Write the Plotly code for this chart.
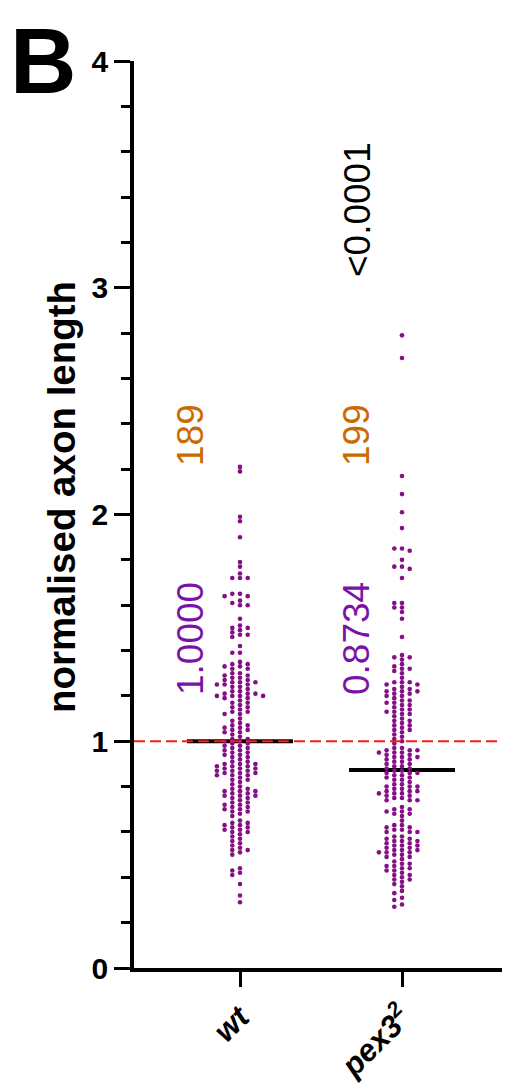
import plotly.graph_objects as go

# ---------------- data ----------------
categories = ["wt", "pex3<sup>2</sup>"]
n_labels = ["189", "199"]
center_values = [1.0000, 0.8734]
center_labels = ["1.0000", "0.8734"]
p_value_label = "<0.0001"
reference_value = 1.0
y_ticks = [0, 1, 2, 3, 4]

wt_values = [
    2.21, 2.19, 1.99, 1.97, 1.90, 1.79, 1.77, 1.74, 1.72, 1.72, 1.72,
    1.65, 1.64, 1.65, 1.64, 1.62, 1.60, 1.60, 1.61, 1.54,
    1.51, 1.50, 1.49, 1.47, 1.48, 1.50, 1.47, 1.46, 1.42, 1.39, 1.39,
    1.35, 1.34, 1.34, 1.33, 1.33, 1.32, 1.32,
    1.30, 1.30, 1.29, 1.29, 1.28, 1.28,
    1.27, 1.27, 1.26, 1.26, 1.26, 1.25, 1.25, 1.25, 1.24, 1.24,
    1.23, 1.22, 1.22, 1.21, 1.21, 1.21, 1.20, 1.20, 1.20, 1.20, 1.19, 1.19, 1.18, 1.17, 1.17, 1.16,
    1.15, 1.15, 1.14, 1.13, 1.13, 1.12, 1.12,
    1.10, 1.09, 1.08, 1.07, 1.07, 1.06, 1.06, 1.05, 1.05, 1.04, 1.04, 1.03,
    1.02, 1.01, 1.01, 1.00, 1.00, 0.99, 0.99, 0.98, 0.98,
    0.97, 0.97, 0.96, 0.96, 0.95, 0.95, 0.94, 0.94, 0.93, 0.93, 0.92,
    0.91, 0.91, 0.90, 0.90, 0.90, 0.89, 0.89, 0.89, 0.88, 0.88, 0.88, 0.87, 0.87, 0.87,
    0.86, 0.86, 0.86, 0.85, 0.85, 0.85,
    0.84, 0.83, 0.83, 0.82, 0.81, 0.80,
    0.79, 0.79, 0.78, 0.78, 0.78, 0.77, 0.77, 0.76, 0.76, 0.76, 0.75, 0.75,
    0.74, 0.73, 0.73, 0.72, 0.72, 0.71, 0.71, 0.70, 0.70, 0.69, 0.69, 0.68, 0.67,
    0.65, 0.64, 0.64, 0.63, 0.63, 0.62, 0.62, 0.61, 0.61, 0.60, 0.60,
    0.59, 0.58, 0.57, 0.56,
    0.55, 0.54, 0.53, 0.52, 0.52, 0.51, 0.50,
    0.44, 0.43, 0.42, 0.41,
    0.37, 0.32, 0.29,
]

pex3_values = [
    2.79, 2.69, 2.17, 2.09, 2.01, 1.94, 1.85, 1.85, 1.84, 1.80, 1.77, 1.77, 1.76, 1.72,
    1.61, 1.61, 1.59, 1.59, 1.57, 1.54,
    1.46,
    1.38, 1.37, 1.37, 1.36, 1.34, 1.33, 1.32, 1.32,
    1.31, 1.30, 1.28,
    1.26, 1.26, 1.26, 1.25, 1.25, 1.24,
    1.23, 1.23, 1.22, 1.22, 1.22, 1.21, 1.21, 1.20, 1.20,
    1.19, 1.18, 1.18, 1.17, 1.17, 1.16, 1.16, 1.15,
    1.14, 1.14, 1.13, 1.13, 1.12, 1.12, 1.11, 1.10,
    1.09, 1.09, 1.08, 1.07, 1.07, 1.06, 1.05, 1.05,
    1.04, 1.03, 1.02, 1.01, 1.00, 0.99,
    0.97, 0.97, 0.96, 0.96, 0.96, 0.95, 0.95, 0.95, 0.94, 0.94, 0.93, 0.93,
    0.93, 0.92, 0.92, 0.91, 0.91, 0.90, 0.90, 0.89, 0.89, 0.88, 0.88,
    0.87, 0.87, 0.86, 0.86, 0.86, 0.85, 0.85, 0.84, 0.84, 0.83, 0.83,
    0.82, 0.81, 0.81, 0.80, 0.80, 0.80, 0.79, 0.79, 0.78, 0.78, 0.78,
    0.77, 0.77, 0.77, 0.76, 0.76, 0.75, 0.75, 0.74, 0.74, 0.74,
    0.71, 0.70, 0.70, 0.69, 0.69, 0.68, 0.68, 0.67,
    0.65,
    0.63, 0.63, 0.62, 0.62, 0.61, 0.61, 0.60, 0.60, 0.60,
    0.58, 0.58, 0.57, 0.57, 0.56, 0.56, 0.56, 0.55, 0.55, 0.54, 0.54, 0.54,
    0.53, 0.53, 0.52, 0.52, 0.52, 0.51, 0.51, 0.51, 0.50, 0.50, 0.49, 0.49, 0.48,
    0.47, 0.46, 0.46, 0.45, 0.45, 0.44, 0.44, 0.43, 0.43,
    0.42, 0.41, 0.41, 0.40, 0.39, 0.39, 0.38, 0.37,
    0.36, 0.34, 0.33, 0.31, 0.30, 0.28, 0.27,
]

groups = [wt_values, pex3_values]

# ---------------- layout constants ----------------
# the page body adds an 8px offset; all "page" pixel targets below are screen pixels
BODY = 8
W, H = 510, 1083
ML, MT = 126, 53
MB = H - (968 - BODY)          # x-axis at screen y = 968
MR = 0
PLOT_LEFT_PAGE = ML + BODY
plot_w = W - ML - MR
plot_h = H - MT - MB
PX_PER_X = 162.0               # pixels between the two categories
CAT0_PAGE = 240                # screen x of the first category
X_RANGE = [(PLOT_LEFT_PAGE - CAT0_PAGE) / PX_PER_X,
           (PLOT_LEFT_PAGE + plot_w - CAT0_PAGE) / PX_PER_X]
Y_RANGE = [0, 4]
px_per_y = plot_h / (Y_RANGE[1] - Y_RANGE[0])


def paper_x(page_px):
    return (page_px - BODY - ML) / plot_w


def paper_y(page_py):
    return ((H - MB) - (page_py - BODY)) / plot_h


POINT_COLOR = "#850f85"
ORANGE = "#cc6a00"
PURPLE = "#7a12a8"
FONT = "Liberation Sans, Arial, sans-serif"


def swarm_offsets(values, col_px=7.7, min_dy_px=4.4):
    """Grid beeswarm: each point goes to the nearest free column."""
    order = [0]
    for i in range(1, 40):
        order += [-i, i]
    cols = {}
    xs, ys = [], []
    for v in sorted(values, reverse=True):
        ypx = v * px_per_y
        for c in order:
            if all(abs(ypx - q) >= min_dy_px for q in cols.get(c, [])):
                cols.setdefault(c, []).append(ypx)
                break
        xs.append(c * col_px / PX_PER_X)
        ys.append(v)
    return xs, ys


fig = go.Figure()

# summary lines (under the points)
half_len = 53 / PX_PER_X
for i, cv in enumerate(center_values):
    fig.add_trace(go.Scatter(
        x=[i - half_len, i + half_len], y=[cv, cv], mode="lines",
        line=dict(color="black", width=4), hoverinfo="skip"))

# points
for i, vals in enumerate(groups):
    dx, ys = swarm_offsets(vals)
    fig.add_trace(go.Scatter(
        x=[i + d for d in dx], y=ys, mode="markers",
        marker=dict(color=POINT_COLOR, size=4.6, line=dict(width=0)),
        name=categories[i]))

# red dashed reference line
fig.add_shape(type="line", xref="paper", x0=0, x1=1, yref="y",
              y0=reference_value, y1=reference_value,
              line=dict(color="#ff1a1a", width=2, dash="11px,5px"), layer="above")

ann_font = dict(family=FONT, size=37)
x_text = [(190 - CAT0_PAGE) / PX_PER_X, 1 + (356 - CAT0_PAGE - PX_PER_X) / PX_PER_X]
for i in range(2):
    fig.add_annotation(x=x_text[i], y=(968 - 435) / px_per_y, text=n_labels[i],
                       textangle=-90, showarrow=False, xanchor="center", yanchor="middle",
                       font=dict(**ann_font, color=ORANGE))
    fig.add_annotation(x=x_text[i], y=(968 - 639) / px_per_y, text=center_labels[i],
                       textangle=-90, showarrow=False, xanchor="center", yanchor="middle",
                       font=dict(**ann_font, color=PURPLE))
fig.add_annotation(x=1 + (357 - CAT0_PAGE - PX_PER_X) / PX_PER_X, y=(968 - 210) / px_per_y,
                   text=p_value_label, textangle=-90, showarrow=False,
                   xanchor="center", yanchor="middle",
                   font=dict(**ann_font, color="black"))

# y-axis title (placed as rotated text, offset upward like the reference)
fig.add_annotation(xref="paper", yref="paper", x=paper_x(61), y=paper_y(497),
                   xanchor="center", yanchor="middle", textangle=-90,
                   text="<b>normalised axon length</b>", showarrow=False,
                   font=dict(family=FONT, size=38.5, color="black"))

# panel letter (box kept inside the figure)
fig.add_annotation(xref="paper", yref="paper", x=paper_x(BODY), y=paper_y(BODY),
                   xanchor="left", yanchor="top",
                   text="<b>B</b>", showarrow=False,
                   font=dict(family=FONT, size=92, color="black"))

fig.update_layout(
    width=W, height=H,
    margin=dict(l=ML, r=MR, t=MT, b=MB, pad=0),
    paper_bgcolor="white", plot_bgcolor="white",
    showlegend=False,
    xaxis=dict(
        range=X_RANGE, tickmode="array", tickvals=[0, 1], ticktext=categories,
        tickangle=-45, ticks="outside", ticklen=15, tickwidth=3, tickcolor="black",
        showline=True, linewidth=3.5, linecolor="black",
        showgrid=False, zeroline=False, automargin=False,
        tickfont=dict(family=FONT, size=31, color="black", weight="bold", style="italic"),
    ),
    yaxis=dict(
        range=Y_RANGE, tickmode="array", tickvals=y_ticks,
        ticks="outside", ticklen=16, tickwidth=3, tickcolor="black",
        showline=True, linewidth=3.5, linecolor="black",
        showgrid=False, zeroline=False, automargin=False,
        tickfont=dict(family=FONT, size=30, color="black", weight="bold"),
        minor=dict(dtick=0.2, tick0=0, ticks="outside", ticklen=9, tickwidth=3,
                   tickcolor="black", showgrid=False),
    ),
)

fig.write_html("out.html")
